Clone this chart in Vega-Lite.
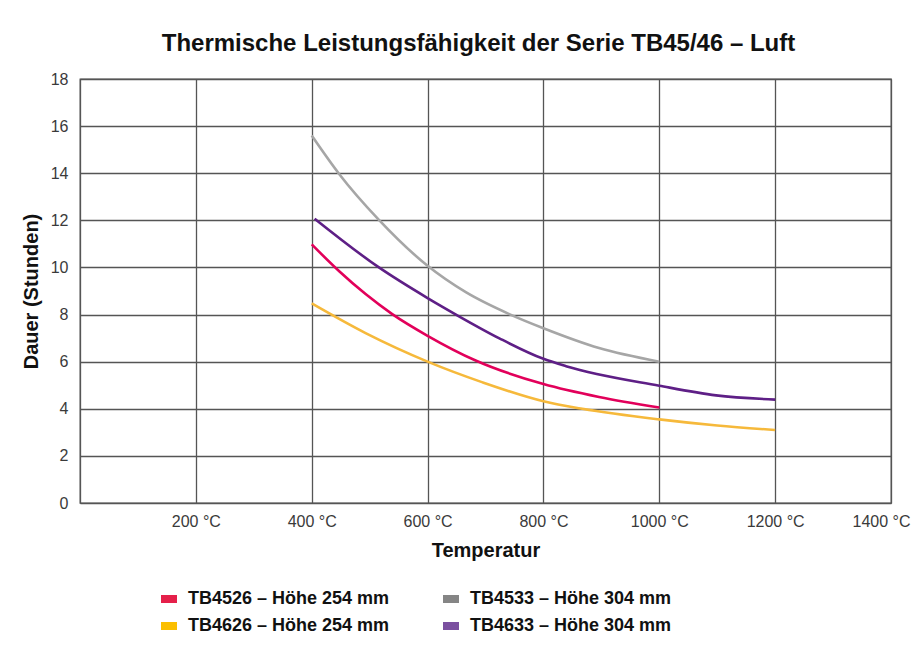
{
  "$schema": "https://vega.github.io/schema/vega-lite/v6.json",
  "autosize": {"type": "none"},
  "width": 811,
  "height": 424,
  "padding": {"left": 80, "top": 79, "right": 32, "bottom": 154},
  "background": "white",
  "title": {
    "text": "Thermische Leistungsfähigkeit der Serie TB45/46 – Luft",
    "font": "Liberation Sans",
    "fontSize": 24,
    "fontWeight": "bold",
    "color": "#111111",
    "anchor": "middle",
    "dx": -7,
    "offset": 15
  },
  "data": {
    "values": [
      {"s": "TB4526 – Höhe 254 mm", "t": 400, "v": 10.98},
      {"s": "TB4526 – Höhe 254 mm", "t": 447, "v": 9.85},
      {"s": "TB4526 – Höhe 254 mm", "t": 493, "v": 8.87},
      {"s": "TB4526 – Höhe 254 mm", "t": 539, "v": 8.02},
      {"s": "TB4526 – Höhe 254 mm", "t": 600, "v": 7.1},
      {"s": "TB4526 – Höhe 254 mm", "t": 683, "v": 6.05},
      {"s": "TB4526 – Höhe 254 mm", "t": 800, "v": 5.05},
      {"s": "TB4526 – Höhe 254 mm", "t": 896, "v": 4.5},
      {"s": "TB4526 – Höhe 254 mm", "t": 1000, "v": 4.05},
      {"s": "TB4533 – Höhe 304 mm", "t": 400, "v": 15.6},
      {"s": "TB4533 – Höhe 304 mm", "t": 447, "v": 13.98},
      {"s": "TB4533 – Höhe 304 mm", "t": 516, "v": 12.02},
      {"s": "TB4533 – Höhe 304 mm", "t": 600, "v": 10.07},
      {"s": "TB4533 – Höhe 304 mm", "t": 666, "v": 8.95},
      {"s": "TB4533 – Höhe 304 mm", "t": 741, "v": 8.02},
      {"s": "TB4533 – Höhe 304 mm", "t": 800, "v": 7.42},
      {"s": "TB4533 – Höhe 304 mm", "t": 896, "v": 6.58},
      {"s": "TB4533 – Höhe 304 mm", "t": 1000, "v": 6.0},
      {"s": "TB4626 – Höhe 254 mm", "t": 400, "v": 8.47},
      {"s": "TB4626 – Höhe 254 mm", "t": 493, "v": 7.21},
      {"s": "TB4626 – Höhe 254 mm", "t": 600, "v": 6.0},
      {"s": "TB4626 – Höhe 254 mm", "t": 695, "v": 5.12},
      {"s": "TB4626 – Höhe 254 mm", "t": 800, "v": 4.32},
      {"s": "TB4626 – Höhe 254 mm", "t": 867, "v": 4.0},
      {"s": "TB4626 – Höhe 254 mm", "t": 1000, "v": 3.55},
      {"s": "TB4626 – Höhe 254 mm", "t": 1100, "v": 3.29},
      {"s": "TB4626 – Höhe 254 mm", "t": 1200, "v": 3.1},
      {"s": "TB4633 – Höhe 304 mm", "t": 405, "v": 12.07},
      {"s": "TB4633 – Höhe 304 mm", "t": 516, "v": 10.0},
      {"s": "TB4633 – Höhe 304 mm", "t": 600, "v": 8.7},
      {"s": "TB4633 – Höhe 304 mm", "t": 649, "v": 8.0},
      {"s": "TB4633 – Höhe 304 mm", "t": 724, "v": 6.99},
      {"s": "TB4633 – Höhe 304 mm", "t": 800, "v": 6.12},
      {"s": "TB4633 – Höhe 304 mm", "t": 839, "v": 5.81},
      {"s": "TB4633 – Höhe 304 mm", "t": 1000, "v": 4.98},
      {"s": "TB4633 – Höhe 304 mm", "t": 1098, "v": 4.57},
      {"s": "TB4633 – Höhe 304 mm", "t": 1200, "v": 4.39}
    ]
  },
  "mark": {"type": "line", "interpolate": "monotone", "strokeWidth": 2.6, "clip": true},
  "encoding": {
    "x": {
      "field": "t",
      "type": "quantitative",
      "scale": {"domain": [0, 1400], "nice": false, "zero": false},
      "axis": {
        "values": [0, 200, 400, 600, 800, 1000, 1200, 1400],
        "labelExpr": "datum.value == 0 ? '' : datum.value + ' °C'",
        "labelFlushOffset": 19,
        "title": "Temperatur",
        "labelPadding": 10,
        "titlePadding": 11
      }
    },
    "y": {
      "field": "v",
      "type": "quantitative",
      "scale": {"domain": [0, 18], "nice": false},
      "axis": {
        "values": [0, 2, 4, 6, 8, 10, 12, 14, 16, 18],
        "title": "Dauer (Stunden)",
        "labelPadding": 12,
        "titlePadding": 9
      }
    },
    "color": {
      "field": "s",
      "type": "nominal",
      "scale": {
        "domain": ["TB4526 – Höhe 254 mm", "TB4626 – Höhe 254 mm", "TB4533 – Höhe 304 mm", "TB4633 – Höhe 304 mm"],
        "range": ["#e2005a", "#f6b93b", "#a6a6a6", "#5e1f86"]
      },
      "legend": {
        "orient": "none",
        "legendX": 80,
        "legendY": 511,
        "columns": 2,
        "columnPadding": 52,
        "rowPadding": 9,
        "title": null,
        "padding": 0,
        "symbolType": "M-1,-0.5H1V0.5H-1Z",
        "symbolSize": 256,
        "labelOffset": 10,
        "labelFont": "Liberation Sans",
        "labelFontSize": 18,
        "labelFontWeight": "bold",
        "labelColor": "#111111",
        "labelLimit": 400,
        "encode": {
          "symbols": {
            "update": {
              "fill": {"signal": "datum.value == 'TB4526 – Höhe 254 mm' ? '#e5204a' : datum.value == 'TB4533 – Höhe 304 mm' ? '#858585' : datum.value == 'TB4626 – Höhe 254 mm' ? '#fbbf00' : '#7b50a0'"},
              "fillOpacity": {"value": 1},
              "strokeWidth": {"value": 0}
            }
          }
        }
      }
    }
  },
  "config": {
    "font": "Liberation Sans",
    "view": {"stroke": "#555555", "strokeWidth": 1.3},
    "axis": {
      "grid": true,
      "gridColor": "#555555",
      "gridWidth": 1.3,
      "gridOpacity": 1,
      "domain": false,
      "ticks": false,
      "labelFont": "Liberation Sans",
      "labelFontSize": 16,
      "labelColor": "#3a3a3a",
      "titleFont": "Liberation Sans",
      "titleFontSize": 20,
      "titleFontWeight": "bold",
      "titleColor": "#111111"
    }
  }
}
